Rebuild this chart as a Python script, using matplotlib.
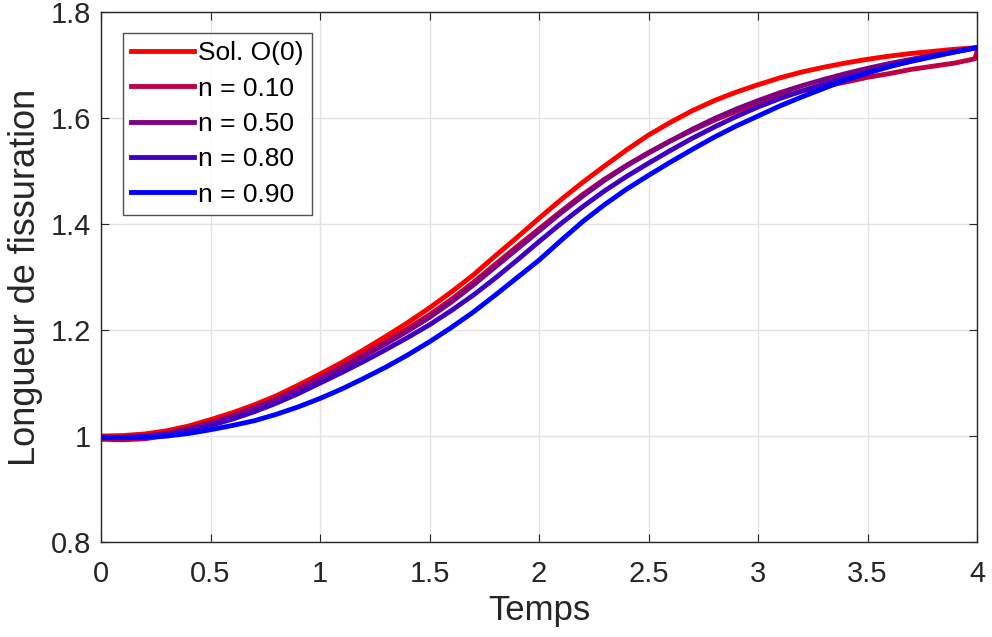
import matplotlib.pyplot as plt

plt.rcParams['font.family'] = ['Liberation Sans', 'DejaVu Sans']

# temps (pas de 0.1)
t = [i / 10 for i in range(41)]
t_n10 = t[:-1] + [3.99, 4.0]

sol_o0 = [1.000, 1.001, 1.004, 1.010, 1.019, 1.031, 1.044, 1.059, 1.076, 1.096,
          1.117, 1.139, 1.163, 1.188, 1.214, 1.242, 1.272, 1.304, 1.340, 1.375,
          1.411, 1.446, 1.479, 1.510, 1.540, 1.568, 1.592, 1.614, 1.633, 1.649,
          1.663, 1.676, 1.687, 1.696, 1.704, 1.711, 1.717, 1.722, 1.726, 1.730, 1.733]
n_010 = [0.994, 0.993, 0.995, 1.001, 1.011, 1.024, 1.038, 1.054, 1.071, 1.090,
         1.111, 1.133, 1.156, 1.179, 1.203, 1.229, 1.258, 1.290, 1.324, 1.358,
         1.391, 1.424, 1.456, 1.485, 1.511, 1.535, 1.557, 1.577, 1.596, 1.613,
         1.629, 1.641, 1.651, 1.660, 1.668, 1.677, 1.684, 1.692, 1.698, 1.704, 1.712, 1.726]
n_050 = [0.998, 0.998, 1.000, 1.005, 1.014, 1.025, 1.038, 1.053, 1.069, 1.088,
         1.108, 1.129, 1.151, 1.174, 1.198, 1.224, 1.253, 1.285, 1.319, 1.353,
         1.387, 1.421, 1.453, 1.483, 1.510, 1.534, 1.557, 1.579, 1.599, 1.617,
         1.633, 1.648, 1.661, 1.673, 1.684, 1.694, 1.703, 1.711, 1.719, 1.726, 1.733]
n_080 = [0.998, 0.997, 0.999, 1.003, 1.010, 1.020, 1.032, 1.046, 1.062, 1.080,
         1.100, 1.120, 1.141, 1.163, 1.186, 1.210, 1.237, 1.266, 1.298, 1.332,
         1.367, 1.401, 1.433, 1.463, 1.490, 1.515, 1.539, 1.562, 1.583, 1.603,
         1.621, 1.637, 1.651, 1.664, 1.676, 1.687, 1.698, 1.707, 1.716, 1.725, 1.733]
n_090 = [0.997, 0.997, 0.998, 1.000, 1.005, 1.012, 1.020, 1.029, 1.041, 1.055,
         1.071, 1.089, 1.109, 1.130, 1.153, 1.178, 1.205, 1.234, 1.266, 1.299,
         1.332, 1.369, 1.405, 1.437, 1.466, 1.492, 1.517, 1.541, 1.564, 1.585,
         1.604, 1.623, 1.640, 1.656, 1.672, 1.685, 1.697, 1.708, 1.717, 1.725, 1.733]

fig = plt.figure(figsize=(9.92, 6.37), dpi=100)
ax = fig.add_axes([0.1018, 0.149, 0.8832, 0.832])

lw = 3.5
ax.plot(t, sol_o0, color='#ff0000', lw=lw, label='Sol. O(0)')
ax.plot(t_n10, n_010, color='#c00040', lw=lw, label='n = 0.10')
ax.plot(t, n_050, color='#800080', lw=lw, label='n = 0.50')
ax.plot(t, n_080, color='#4000c0', lw=lw, label='n = 0.80')
ax.plot(t, n_090, color='#0000ff', lw=lw, label='n = 0.90')

ax.set_xlim(0, 4)
ax.set_ylim(0.8, 1.8)
ax.set_xticks([0, 0.5, 1, 1.5, 2, 2.5, 3, 3.5, 4])
ax.set_xticklabels(['0', '0.5', '1', '1.5', '2', '2.5', '3', '3.5', '4'])
ax.set_yticks([0.8, 1, 1.2, 1.4, 1.6, 1.8])
ax.set_yticklabels(['0.8', '1', '1.2', '1.4', '1.6', '1.8'])
ax.grid(True, color='#e3e3e3', lw=1)
ax.set_axisbelow(True)
ax.tick_params(direction='in', length=6, labelsize=21, colors='#262626', pad=7, top=True, right=True,
               labeltop=False, labelright=False)
ax.tick_params(axis='x', pad=13)
for s in ax.spines.values():
    s.set_color('#262626')
    s.set_linewidth(1)

ax.set_xlabel('Temps', fontsize=25, color='#262626', labelpad=4)
ax.set_ylabel('Longueur de fissuration', fontsize=26, color='#262626', labelpad=6)

leg = ax.legend(loc='upper left', bbox_to_anchor=(0.025, 0.96), fontsize=19, frameon=True,
                fancybox=False, edgecolor='#262626', handlelength=2.4, handletextpad=0.15,
                labelspacing=0.43, borderpad=0.3, borderaxespad=0)
leg.get_frame().set_linewidth(1)

fig.savefig('out.png', dpi=100)
